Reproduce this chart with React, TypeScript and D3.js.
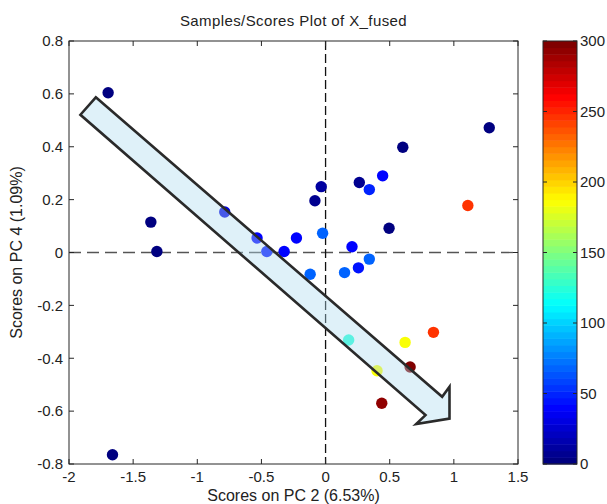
import React from "react";
import * as d3 from "d3";

// scores on PC 2 / PC 4, coloured by the sample's value (0-300)
const pc2 = [
  -1.695, -1.362, -1.315, -0.786, -0.534, -0.458, -0.323, -0.227, -0.12, -0.083,
  -0.034, -0.023, 0.263, 0.341, 0.445, 0.602, 1.276, 1.109, 0.495, 0.206,
  0.341, 0.256, 0.148, 0.18, 0.62, 0.841, 0.659, 0.401, 0.438, -1.661,
];
const pc4 = [
  0.604, 0.115, 0.004, 0.153, 0.055, 0.004, 0.004, 0.055, -0.082, 0.196,
  0.249, 0.073, 0.265, 0.238, 0.29, 0.398, 0.472, 0.178, 0.092, 0.022,
  -0.025, -0.058, -0.076, -0.331, -0.34, -0.302, -0.433, -0.447, -0.57, -0.765,
];
const colorValue = [
  2, 2, 2, 30, 40, 45, 42, 42, 70, 5,
  10, 70, 7, 48, 42, 3, 3, 245, 3, 40,
  70, 45, 70, 125, 187, 245, 300, 187, 295, 2,
];

const xTicks = [-2, -1.5, -1, -0.5, 0, 0.5, 1, 1.5];
const yTicks = [-0.8, -0.6, -0.4, -0.2, 0, 0.2, 0.4, 0.6, 0.8];
const cbTicks = [0, 50, 100, 150, 200, 250, 300];

// arrow annotation, in data units (PC 2, PC 4)
const arrowX = [-1.791, 0.909, 0.966, 0.966, 0.706, 0.779, -1.911];
const arrowY = [0.587, -0.546, -0.508, -0.628, -0.649, -0.615, 0.521];

const W = 607, H = 504;
const left = 69, right = 518, top = 41, bottom = 464;
const cbLeft = 543, cbRight = 577;
const font = "'Liberation Sans', Arial, sans-serif";
const axisColor = "#262626";

function jet(t: number) {
  const c = (v: number) => Math.round(255 * Math.max(0, Math.min(1, v)));
  const r = 1.5 - Math.abs(4 * t - 3);
  const g = 1.5 - Math.abs(4 * t - 2);
  const b = 1.5 - Math.abs(4 * t - 1);
  return `rgb(${c(r)},${c(g)},${c(b)})`;
}

export default function App() {
  const x = d3.scaleLinear().domain([-2, 1.5]).range([left, right]);
  const y = d3.scaleLinear().domain([-0.8, 0.8]).range([bottom, top]);
  const cb = d3.scaleLinear().domain([0, 300]).range([bottom, top]);
  // 64-level jet map like MATLAB
  const levels = d3.range(64);
  const colorOf = (v: number) => jet(Math.min(63, Math.floor((v / 300) * 64)) / 63);

  const arrowPath = d3.line()(arrowX.map((d, i) => [x(d), y(arrowY[i])] as [number, number])) + "Z";

  return (
    <svg width={W} height={H} style={{ position: "absolute", left: 0, top: 0, background: "#fff" }}>
      <rect x={0} y={0} width={W} height={H} fill="#fff" />
      <text x={(left + right) / 2} y={26} textAnchor="middle" fontFamily={font} fontSize={15} letterSpacing={0.4} fill="#222">
        Samples/Scores Plot of X_fused
      </text>

      {/* zero lines */}
      <line x1={left} x2={right} y1={y(0)} y2={y(0)} stroke="#555" strokeWidth={1.3} strokeDasharray="12,6" />
      <line x1={x(0)} x2={x(0)} y1={top} y2={bottom} stroke="#111" strokeWidth={1.3} strokeDasharray="9,4" />

      {pc2.map((d, i) => (
        <circle key={i} cx={x(d)} cy={y(pc4[i])} r={5.7} fill={colorOf(colorValue[i])} />
      ))}

      <path d={arrowPath} fill="#b0dcf0" fillOpacity={0.4} stroke="#2a2a2a" strokeWidth={2.6} strokeLinejoin="miter" />

      {/* axes box with inward ticks */}
      <rect x={left} y={top} width={right - left} height={bottom - top} fill="none" stroke={axisColor} strokeWidth={1} />
      {xTicks.map((t) => (
        <g key={"x" + t}>
          <line x1={x(t)} x2={x(t)} y1={bottom} y2={bottom - 5} stroke={axisColor} />
          <line x1={x(t)} x2={x(t)} y1={top} y2={top + 5} stroke={axisColor} />
          <text x={x(t)} y={482} textAnchor="middle" fontFamily={font} fontSize={15} fill="#222">
            {String(t)}
          </text>
        </g>
      ))}
      {yTicks.map((t) => (
        <g key={"y" + t}>
          <line x1={left} x2={left + 5} y1={y(t)} y2={y(t)} stroke={axisColor} />
          <line x1={right} x2={right - 5} y1={y(t)} y2={y(t)} stroke={axisColor} />
          <text x={63} y={y(t)} dy="0.35em" textAnchor="end" fontFamily={font} fontSize={15} fill="#222">
            {String(t)}
          </text>
        </g>
      ))}
      <text x={(left + right) / 2} y={501} textAnchor="middle" fontFamily={font} fontSize={16} fill="#222">
        Scores on PC 2 (6.53%)
      </text>
      <text transform={`translate(22,${(top + bottom) / 2}) rotate(-90)`} textAnchor="middle" fontFamily={font} fontSize={16} fill="#222">
        Scores on PC 4 (1.09%)
      </text>

      {/* colorbar */}
      {levels.map((k) => (
        <rect
          key={k}
          x={cbLeft}
          width={cbRight - cbLeft}
          y={cb(((k + 1) * 300) / 64)}
          height={cb((k * 300) / 64) - cb(((k + 1) * 300) / 64) + 0.5}
          fill={jet(k / 63)}
        />
      ))}
      <rect x={cbLeft} y={top} width={cbRight - cbLeft} height={bottom - top} fill="none" stroke={axisColor} />
      {cbTicks.map((t) => (
        <g key={"c" + t}>
          <line x1={cbLeft} x2={cbLeft + 4} y1={cb(t)} y2={cb(t)} stroke={axisColor} />
          <line x1={cbRight} x2={cbRight - 4} y1={cb(t)} y2={cb(t)} stroke={axisColor} />
          <text x={580} y={cb(t)} dy="0.35em" fontFamily={font} fontSize={15} fill="#222">
            {String(t)}
          </text>
        </g>
      ))}
    </svg>
  );
}
